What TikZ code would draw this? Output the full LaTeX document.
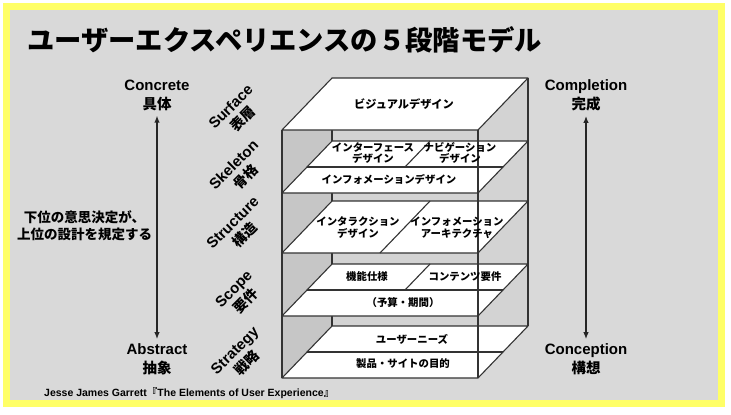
\documentclass[tikz,border=0pt]{standalone}
\usepackage{fontspec}
\setmainfont{Liberation Sans}
\newfontfamily\jp{Noto Sans CJK JP}
\usetikzlibrary{arrows.meta}
\definecolor{bg}{HTML}{D9D9D9}
\definecolor{frameY}{HTML}{FFFF66}
\definecolor{wallL}{HTML}{C6C6C6}
\definecolor{wallB}{HTML}{D3D3D3}
\definecolor{ink}{HTML}{333333}
\tikzset{
  edge/.style={draw=ink, line width=1.2pt},
  layer/.style={fill=white, draw=ink, line width=1.1pt, line join=round},
  sepline/.style={draw=ink, line width=1.1pt},
  lt/.style={font=\jp\bfseries\fontsize{10.4}{11.6}\selectfont, align=center, inner sep=0pt},
  side/.style={font=\bfseries\fontsize{15}{19}\selectfont, align=center, inner sep=0pt},
  rlab/.style={font=\bfseries\fontsize{15}{17}\selectfont, align=center, inner sep=0pt, rotate=45},
  axis/.style={draw=black!85, line width=1.3pt, {Latex[length=7pt,width=5.5pt]}-{Latex[length=7pt,width=5.5pt]}},
}
\begin{document}
\begin{tikzpicture}[x=1pt,y=-1pt]
\useasboundingbox (0,0) rectangle (731,415);
\fill[white] (0,0) rectangle (731,415);
\fill[frameY] (3,3) rectangle (725,407);
\fill[bg] (10,10) rectangle (718,400);

% title
\node[anchor=west, inner sep=0pt, font=\jp\bfseries\fontsize{27.3}{30}\selectfont] (title) at (27,40) {ユーザーエクスペリエンスの５段階モデル};

% box walls
\fill[wallB] (332,78) rectangle (528,326);
\fill[wallL] (282,130) -- (332,78) -- (332,326) -- (282,378) -- cycle;
\draw[edge] (332,78) -- (332,326);
\draw[edge] (528,78) -- (528,326);

% Surface
\filldraw[layer] (332,78) -- (528,78) -- (478,130) -- (282,130) -- cycle;
% Skeleton
\filldraw[layer] (332,141) -- (528,141) -- (478,193) -- (282,193) -- cycle;
\draw[sepline] (307,167) -- (503,167);
\draw[sepline] (430,141) -- (405,167);
% Structure
\filldraw[layer] (332,201) -- (528,201) -- (478,253) -- (282,253) -- cycle;
\draw[sepline] (430,201) -- (380,253);
% Scope
\filldraw[layer] (332,264) -- (528,264) -- (478,316) -- (282,316) -- cycle;
\draw[sepline] (307,290) -- (503,290);
\draw[sepline] (430,264) -- (405,290);
% Strategy
\filldraw[layer] (332,326) -- (528,326) -- (478,378) -- (282,378) -- cycle;
\draw[sepline] (307,352) -- (503,352);

% front edges
\draw[edge] (282,130) -- (282,378);
\draw[edge] (478,130) -- (478,378);

% layer texts
\node[lt, font=\jp\bfseries\fontsize{11.2}{12}\selectfont] (vis) at (404,104) {ビジュアルデザイン};
\node[lt] (ifd) at (373,153) {インターフェース\\デザイン};
\node[lt] (nav) at (460,153) {ナビゲーション\\デザイン};
\node[lt] (infd) at (389,179) {インフォメーションデザイン};
\node[lt] (ixd) at (358,227.5) {インタラクション\\デザイン};
\node[lt] (ia) at (457,227.5) {インフォメーション\\アーキテクチャ};
\node[lt] (func) at (367,277) {機能仕様};
\node[lt] (cont) at (465,277) {コンテンツ要件};
\node[lt] (budget) at (403,303) {（予算・期間）};
\node[lt] (needs) at (412,339) {ユーザーニーズ};
\node[lt] (obj) at (403,364) {製品・サイトの目的};

% rotated plane labels
\node[rlab] (surf) at (237,113) {Surface\\{\jp\fontsize{14}{17}\selectfont 表層}};
\node[rlab] (skel) at (240,171) {Skeleton\\{\jp\fontsize{14}{17}\selectfont 骨格}};
\node[rlab] (struc) at (239,229) {Structure\\{\jp\fontsize{14}{17}\selectfont 構造}};
\node[rlab] (scope) at (240,295) {Scope\\{\jp\fontsize{14}{17}\selectfont 要件}};
\node[rlab] (strat) at (241,357) {Strategy\\{\jp\fontsize{14}{17}\selectfont 戦略}};

% left axis
\node[side] (concrete) at (157,95) {Concrete\\{\jp\fontsize{14.5}{19}\selectfont 具体}};
\node[side] (abstract) at (157,359) {Abstract\\{\jp\fontsize{14.5}{19}\selectfont 抽象}};
\draw[axis, shorten <=5pt, shorten >=4pt] (concrete) -- (abstract);
\node[font=\jp\bfseries\fontsize{13.5}{17}\selectfont, align=center, inner sep=0pt] (note) at (84.5,225.5) {下位の意思決定が、\\上位の設計を規定する};

% right axis
\node[side] (completion) at (586,95) {Completion\\{\jp\fontsize{14.5}{19}\selectfont 完成}};
\node[side] (conception) at (586,359) {Conception\\{\jp\fontsize{14.5}{19}\selectfont 構想}};
\draw[axis, shorten <=5pt, shorten >=4pt] (completion) -- (conception);

% citation
\node[anchor=west, inner sep=0pt, font=\bfseries\fontsize{10.5}{12}\selectfont] (cite) at (44,393) {Jesse James Garrett{\jp『}The Elements of User Experience{\jp』}};
\end{tikzpicture}
\end{document}
